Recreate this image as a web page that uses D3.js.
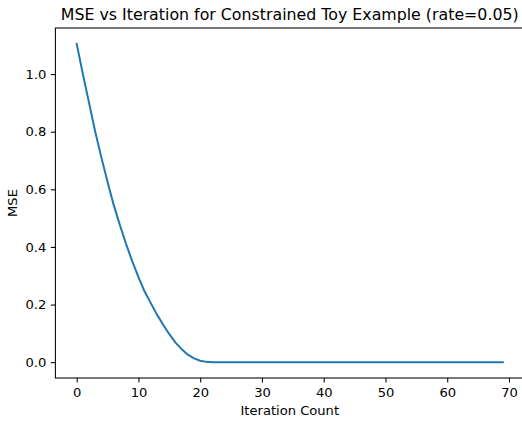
<!DOCTYPE html>
<html>
<head>
<meta charset="utf-8">
<script src="https://cdn.jsdelivr.net/npm/d3@7"></script>
<style>
  body { margin: 0; background: #fff; }
  svg { display: block; }
</style>
</head>
<body>
<div id="chart"></div>
<script>
// data: MSE per iteration
var iterations = d3.range(0, 70);
var mse = [
  1.105, 1.00, 0.90, 0.80, 0.71, 0.625, 0.545, 0.475, 0.41, 0.35,
  0.295, 0.245, 0.205, 0.165, 0.13, 0.097, 0.068, 0.045, 0.026, 0.013,
  0.005, 0.001, 0, 0, 0, 0, 0, 0, 0, 0,
  0, 0, 0, 0, 0, 0, 0, 0, 0, 0,
  0, 0, 0, 0, 0, 0, 0, 0, 0, 0,
  0, 0, 0, 0, 0, 0, 0, 0, 0, 0,
  0, 0, 0, 0, 0, 0, 0, 0, 0, 0
];
var xTicks = [0, 10, 20, 30, 40, 50, 60, 70];
var yTicks = [0.0, 0.2, 0.4, 0.6, 0.8, 1.0];

var svgWidth = 522;
var svgHeight = 421;
var fontFamily = "DejaVu Sans";
var fontSize = "13.1px";

// axes box (right spine falls just outside the picture)
var plotLeft = 55.4, plotRight = 524.1, plotTop = 28, plotBottom = 378;

var svg = d3.select("#chart")
  .append("svg")
  .attr("width", svgWidth)
  .attr("height", svgHeight)
  .attr("font-family", fontFamily);

var xScale = d3.scaleLinear()
  .domain([-3.45, 72.45])
  .range([plotLeft, plotRight]);

var yScale = d3.scaleLinear()
  .domain([-0.055, 1.16])
  .range([plotBottom, plotTop]);

// line
var line = d3.line()
  .x(function(d, i) { return xScale(iterations[i]); })
  .y(function(d) { return yScale(d); });

svg.append("path")
  .datum(mse)
  .attr("fill", "none")
  .attr("stroke", "#1f77b4")
  .attr("stroke-width", 2)
  .attr("stroke-linejoin", "round")
  .attr("stroke-linecap", "square")
  .attr("d", line);

// axes
var bottomAxis = d3.axisBottom(xScale)
  .tickValues(xTicks)
  .tickSizeInner(4.6)
  .tickSizeOuter(0)
  .tickPadding(4.6)
  .tickFormat(d3.format("d"));

var leftAxis = d3.axisLeft(yScale)
  .tickValues(yTicks)
  .tickSizeInner(4.6)
  .tickSizeOuter(0)
  .tickPadding(4.6)
  .tickFormat(d3.format(".1f"));

var gx = svg.append("g")
  .attr("transform", `translate(0, ${plotBottom})`)
  .call(bottomAxis);

var gy = svg.append("g")
  .attr("transform", `translate(${plotLeft}, 0)`)
  .call(leftAxis);

[gx, gy].forEach(function(g) {
  g.attr("font-family", fontFamily).attr("font-size", fontSize);
  g.select(".domain").remove();
  g.selectAll(".tick line").attr("stroke", "#000").attr("stroke-width", 1.05);
  g.selectAll(".tick text").attr("fill", "#000");
});

// spines
svg.append("rect")
  .attr("x", plotLeft)
  .attr("y", plotTop)
  .attr("width", plotRight - plotLeft)
  .attr("height", plotBottom - plotTop)
  .attr("fill", "none")
  .attr("stroke", "#000")
  .attr("stroke-width", 1.05);

// title and labels
svg.append("text")
  .attr("x", (plotLeft + plotRight) / 2)
  .attr("y", 20)
  .attr("text-anchor", "middle")
  .attr("font-size", "15.8px")
  .text("MSE vs Iteration for Constrained Toy Example (rate=0.05)");

svg.append("text")
  .attr("x", (plotLeft + plotRight) / 2)
  .attr("y", 415)
  .attr("text-anchor", "middle")
  .attr("font-size", fontSize)
  .text("Iteration Count");

svg.append("text")
  .attr("transform", `translate(16.5, ${(plotTop + plotBottom) / 2}) rotate(-90)`)
  .attr("text-anchor", "middle")
  .attr("font-size", fontSize)
  .text("MSE");
</script>
</body>
</html>
